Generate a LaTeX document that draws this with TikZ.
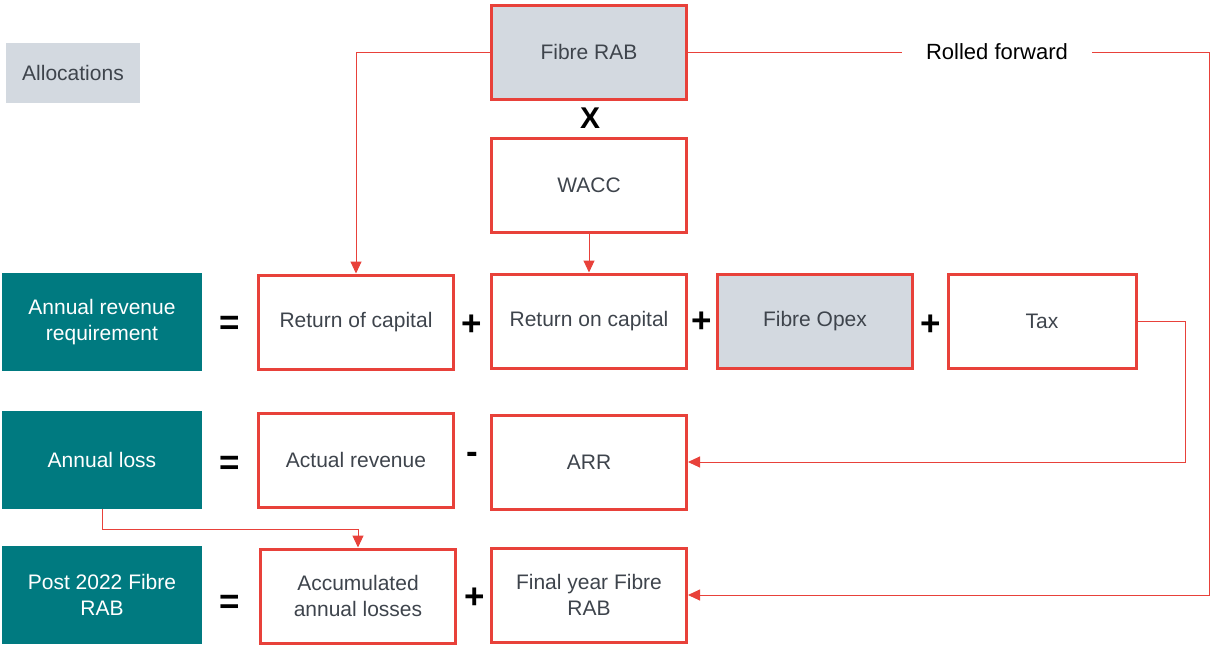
\documentclass[tikz,border=0pt]{standalone}
\usepackage{fontspec}
\setmainfont{Liberation Sans}
\usepackage{tikz}
\usetikzlibrary{arrows.meta,positioning}
\definecolor{boxred}{RGB}{232,65,58}
\definecolor{tealfill}{RGB}{0,122,128}
\definecolor{greyfill}{RGB}{211,217,224}
\definecolor{txtgrey}{RGB}{62,68,76}

\tikzset{
    redbox/.style={draw=boxred, line width=3pt, minimum width=195pt, minimum height=94pt,
        align=center, text=txtgrey, font=\fontsize{21}{26}\selectfont},
    greybox/.style={redbox, fill=greyfill},
    tealbox/.style={fill=tealfill, minimum width=200pt, minimum height=98pt,
        align=center, text=white, font=\fontsize{21}{26}\selectfont},
    op/.style={font=\bfseries\fontsize{35}{35}\selectfont},
    link/.style={draw=boxred, line width=1pt, -{Triangle[length=12pt,width=11pt]}}
}

\begin{document}
\begin{tikzpicture}[x=1pt,y=-1pt]
    \useasboundingbox (0,0) rectangle (1210,646);

    % Legend
    \node[fill=greyfill, minimum width=134pt, minimum height=60pt, text=txtgrey,
        font=\fontsize{21}{26}\selectfont] (alloc) at (73,73) {Allocations};

    % Top boxes
    \node[greybox] (rab) at (589,52) {Fibre RAB};
    \node[op, font=\bfseries\fontsize{30}{30}\selectfont] (times) at (590,118) {X};
    \node[redbox] (wacc) at (589,185) {WACC};

    % Row 1
    \node[tealbox] (arreq) at (102,322) {Annual revenue\\requirement};
    \node[op] (eq1) at (230,325) {=};
    \node[redbox] (roc) at (356,322) {Return of capital};
    \node[op] (pl1) at (472,325) {+};
    \node[redbox] (ron) at (589,321) {Return on capital};
    \node[op] (pl2) at (702,322) {+};
    \node[greybox] (opex) at (815,321) {Fibre Opex};
    \node[op] (pl3) at (931,325) {+};
    \node[redbox, minimum width=188pt] (tax) at (1042,321) {Tax};

    % Row 2
    \node[tealbox] (loss) at (102,460) {Annual loss};
    \node[op] (eq2) at (230,465) {=};
    \node[redbox] (actual) at (356,460) {Actual revenue};
    \node[op] (mi1) at (472,458) {-};
    \node[redbox] (arr) at (589,462) {ARR};

    % Row 3
    \node[tealbox] (post) at (102,595) {Post 2022 Fibre\\RAB};
    \node[op] (eq3) at (230,604) {=};
    \node[redbox] (accum) at (358,596) {Accumulated\\annual losses};
    \node[op] (pl4) at (475,598) {+};
    \node[redbox] (final) at (589,595) {Final year Fibre\\RAB};

    % Connectors
    \draw[link] (rab.west) -| (roc.north);
    \draw[link] (wacc.south) -- (ron.north);
    \node[inner xsep=24pt, font=\fontsize{22}{26}\selectfont] (rolled) at (997,52) {Rolled forward};
    \draw[boxred, line width=1pt] (rab.east) -- (rolled.west);
    \coordinate (rollc) at (1209,52);
    \draw[link] (rolled.east) -- (rollc) |- (final.east);
    \coordinate (taxc) at (1185,321);
    \draw[link] (tax.east) -- (taxc) |- (arr.east);
    \draw[link] (loss.south) -- ++(0,20) -| (accum.north);
\end{tikzpicture}
\end{document}
